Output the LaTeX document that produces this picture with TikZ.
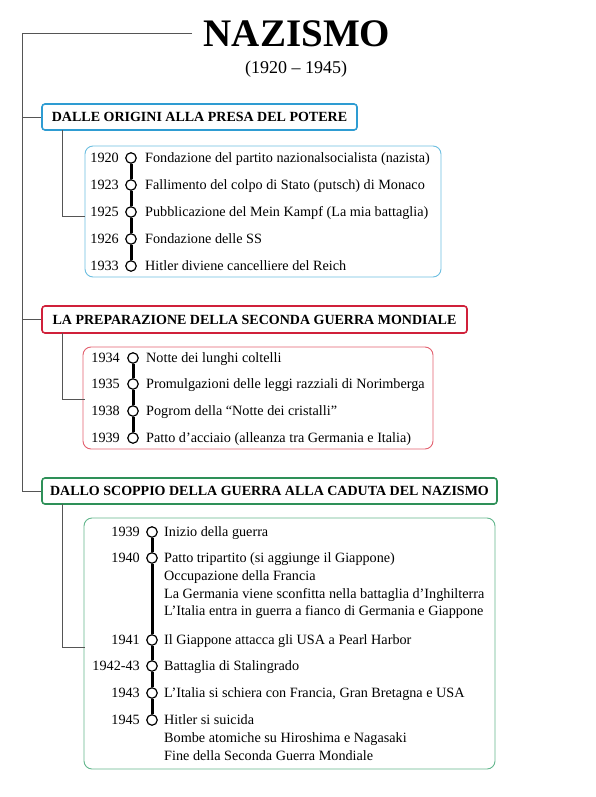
\documentclass[tikz,border=0pt]{standalone}
\usepackage{fontspec}
\setmainfont{Liberation Serif}
\definecolor{hblue}{HTML}{2E9CD2}
\definecolor{iblue}{HTML}{6CBEE0}
\definecolor{hred}{HTML}{D0203A}
\definecolor{ired}{HTML}{E2606E}
\definecolor{hgreen}{HTML}{2E9058}
\definecolor{igreen}{HTML}{62B68C}
\definecolor{conn}{HTML}{555555}
\tikzset{
  header/.style={draw=#1, line width=1.6pt, rounded corners=3pt, fill=white, inner sep=0pt},
  htext/.style={anchor=base, inner sep=0pt, font=\fontsize{14}{16}\selectfont\bfseries},
  inbox/.style={draw=#1, line width=0.9pt, rounded corners=8pt, inner sep=0pt},
  link/.style={draw=conn, line width=0.7pt},
  dot/.style={circle, draw=black, line width=1.2pt, fill=white, minimum size=10.5pt, inner sep=0pt},
  tline/.style={line width=3pt, black},
  yr/.style={anchor=base east, inner sep=0pt, yshift=-4.6pt, font=\fontsize{14.2}{16}\selectfont},
  ev/.style={anchor=base west, inner sep=0pt, yshift=-4.6pt, font=\fontsize{14.2}{16}\selectfont},
}
\begin{document}
\begin{tikzpicture}[x=1pt,y=-1pt]
\useasboundingbox (0,0) rectangle (595,797);
% title
\node[anchor=base, inner sep=0pt, font=\fontsize{39}{40}\selectfont\bfseries] (title) at (297,47) {NAZISMO};
\node[anchor=base, inner sep=0pt, font=\fontsize{18}{20}\selectfont] (dates) at (296,74) {(1920 – 1945)};
% headers
\node[header=hblue, minimum width=315pt, minimum height=26pt] (h1) at (199.5,117) {};
\node[htext] (h1t) at (199.5,121.8) {DALLE ORIGINI ALLA PRESA DEL POTERE};
\node[header=hred, minimum width=425pt, minimum height=27pt] (h2) at (254.5,319.5) {};
\node[htext] (h2t) at (254.5,324.5) {LA PREPARAZIONE DELLA SECONDA GUERRA MONDIALE};
\node[header=hgreen, minimum width=455pt, minimum height=26pt] (h3) at (269.5,491) {};
\node[htext] (h3t) at (269.5,495.8) {DALLO SCOPPIO DELLA GUERRA ALLA CADUTA DEL NAZISMO};
% inner boxes
\node[inbox=iblue, minimum width=356pt, minimum height=131pt] (b1) at (263,211.5) {};
\node[inbox=ired, minimum width=350pt, minimum height=102pt] (b2) at (258,398) {};
\node[inbox=igreen, minimum width=411pt, minimum height=251pt] (b3) at (289.5,643.5) {};
% trunk
\coordinate (tstart) at (192,33);
\coordinate (ttop) at (22,33);
\draw[link] (tstart) -- (ttop) |- (h3.west);
\draw[link] (ttop |- h1.west) -- (h1.west);
\draw[link] (ttop |- h2.west) -- (h2.west);
% header to box connectors
\coordinate (v1) at (62,130);
\coordinate (w1) at (85,216.5);
\draw[link] (v1) |- (w1);
\coordinate (v2) at (62,333);
\coordinate (w2) at (85,399);
\draw[link] (v2) |- (w2);
\coordinate (v3) at (62,504);
\coordinate (w3) at (85,647);
\draw[link] (v3) |- (w3);
% section 1
\foreach \i/\y/\yy/\t in {1/158/1920/Fondazione del partito nazionalsocialista (nazista),
  2/185/1923/Fallimento del colpo di Stato (putsch) di Monaco,
  3/212/1925/Pubblicazione del Mein Kampf (La mia battaglia),
  4/239/1926/Fondazione delle SS,
  5/266/1933/Hitler diviene cancelliere del Reich}{
  \node[dot] (a\i) at (131,\y) {};
  \node[yr] (ay\i) at (119,\y) {\yy};
  \node[ev] (at\i) at (145,\y) {\t};
}
\foreach \i/\j in {1/2,2/3,3/4,4/5}{\draw[tline] (a\i) -- (a\j);}
% section 2
\foreach \i/\y/\yy/\t in {1/358/1934/Notte dei lunghi coltelli,
  2/384/1935/Promulgazioni delle leggi razziali di Norimberga,
  3/411/1938/Pogrom della “Notte dei cristalli”,
  4/438/1939/Patto d’acciaio (alleanza tra Germania e Italia)}{
  \node[dot] (r\i) at (133,\y) {};
  \node[yr] (ry\i) at (120,\y) {\yy};
  \node[ev] (rt\i) at (146,\y) {\t};
}
\foreach \i/\j in {1/2,2/3,3/4}{\draw[tline] (r\i) -- (r\j);}
% section 3
\foreach \i/\y/\yy/\t in {1/532/1939/Inizio della guerra,
  2/558/1940/Patto tripartito (si aggiunge il Giappone),
  3/640/1941/Il Giappone attacca gli USA a Pearl Harbor,
  4/666/1942-43/Battaglia di Stalingrado,
  5/693/1943/{L’Italia si schiera con Francia, Gran Bretagna e USA},
  6/720/1945/Hitler si suicida}{
  \node[dot] (g\i) at (152,\y) {};
  \node[yr] (gy\i) at (140,\y) {\yy};
  \node[ev] (gt\i) at (164,\y) {\t};
}
\foreach \i/\j in {1/2,2/3,3/4,4/5,5/6}{\draw[tline] (g\i) -- (g\j);}
\node[ev] (gx1) at (164,576) {Occupazione della Francia};
\node[ev] (gx2) at (164,593.5) {La Germania viene sconfitta nella battaglia d’Inghilterra};
\node[ev] (gx3) at (164,611) {L’Italia entra in guerra a fianco di Germania e Giappone};
\node[ev] (gx4) at (164,738) {Bombe atomiche su Hiroshima e Nagasaki};
\node[ev] (gx5) at (164,756) {Fine della Seconda Guerra Mondiale};
\end{tikzpicture}
\end{document}
